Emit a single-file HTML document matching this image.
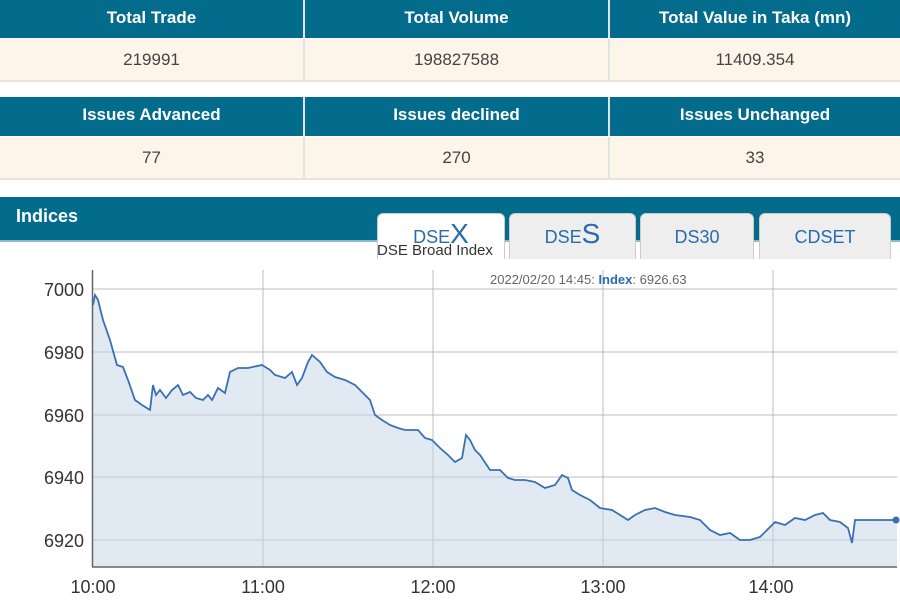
<!DOCTYPE html>
<html><head><meta charset="utf-8"><style>
body{margin:0;width:900px;height:600px;background:#fff;font-family:"Liberation Sans",Arial,sans-serif;overflow:hidden;position:relative}
.row{position:absolute;left:0;width:900px;display:flex}
.row div{box-sizing:border-box;text-align:center;border-right:2px solid #dfe3e3}
.row div:last-child{border-right:none}
.h{background:#036b8c;color:#fff;font-weight:bold;font-size:17px}
.d{background:#fdf4ea;color:#444;font-size:17px}
.c1{width:305px}.c2{width:305px}.c3{width:290px}
.tab{position:absolute;top:213px;height:46px;background:#eeeeee;border:1px solid #ccc;border-bottom:none;border-radius:6px 6px 0 0;box-sizing:border-box;text-align:center;color:#2a6bb0;font-size:18px;padding-top:13px}
</style></head><body>
<div class="row h" style="top:0;height:38px;line-height:36px"><div class="c1">Total Trade</div><div class="c2">Total Volume</div><div class="c3">Total Value in Taka (mn)</div></div>
<div class="row d" style="top:39px;height:41px;line-height:41px;border-bottom:2px solid #e8e4dc"><div class="c1">219991</div><div class="c2">198827588</div><div class="c3">11409.354</div></div>
<div class="row h" style="top:97px;height:39px;line-height:36px"><div class="c1">Issues Advanced</div><div class="c2">Issues declined</div><div class="c3">Issues Unchanged</div></div>
<div class="row d" style="top:137px;height:41px;line-height:41px;border-bottom:2px solid #e8e4dc"><div class="c1">77</div><div class="c2">270</div><div class="c3">33</div></div>
<div style="position:absolute;top:197px;left:0;width:900px;height:43px;background:#036b8c"></div>
<div style="position:absolute;top:240px;left:0;width:900px;height:2px;background:#8fb8c8"></div>
<div style="position:absolute;top:206px;left:16px;color:#fff;font-weight:bold;font-size:18px">Indices</div>
<div class="tab" style="left:377px;width:128px;background:#fff;padding-top:10px">DSE<span style="font-size:28px;line-height:20px">X</span></div>
<div class="tab" style="left:509px;width:127px;padding-top:10px">DSE<span style="font-size:28px;line-height:20px">S</span></div>
<div class="tab" style="left:640px;width:114px">DS30</div>
<div class="tab" style="left:759px;width:132px">CDSET</div>
<div style="position:absolute;top:242px;left:377px;font-size:15px;color:#333">DSE Broad Index</div>
<svg style="position:absolute;left:0;top:0" width="900" height="600">
<g stroke="#b8bcc0" stroke-width="1">
<line x1="93" y1="289" x2="897" y2="289"/><line x1="93" y1="352" x2="897" y2="352"/><line x1="93" y1="415" x2="897" y2="415"/><line x1="93" y1="477" x2="897" y2="477"/><line x1="93" y1="540" x2="897" y2="540"/>
<line x1="263" y1="270" x2="263" y2="567"/><line x1="433" y1="270" x2="433" y2="567"/><line x1="603" y1="270" x2="603" y2="567"/><line x1="773" y1="270" x2="773" y2="567"/>
</g>
<path id="p" d="M93,305 L95,295 98,300 103,320 110,340 117,365 123,367 128,380 135,400 142,405 150,410 153,385 156,395 160,390 166,398 172,390 178,385 183,395 190,392 196,398 203,400 208,395 212,400 218,388 225,393 230,372 238,368 248,368 262,365 270,370 275,375 285,378 292,372 297,385 302,378 308,362 312,355 320,362 327,372 335,377 345,380 355,385 365,395 370,400 375,415 382,420 390,425 398,428 405,430 418,430 425,438 432,440 440,448 448,455 455,462 462,458 466,435 470,440 475,450 480,455 490,470 500,470 508,478 515,480 525,480 535,482 545,488 555,485 562,475 568,478 572,490 580,495 590,500 600,508 612,510 620,515 628,520 635,515 645,510 655,508 665,512 675,515 690,517 700,520 710,530 720,535 730,533 740,540 750,540 760,537 770,527 775,522 785,525 795,518 805,520 815,515 823,513 830,520 840,522 848,528 852,543 855,520 897,520" fill="none"/>
<path d="M93,305 L95,295 98,300 103,320 110,340 117,365 123,367 128,380 135,400 142,405 150,410 153,385 156,395 160,390 166,398 172,390 178,385 183,395 190,392 196,398 203,400 208,395 212,400 218,388 225,393 230,372 238,368 248,368 262,365 270,370 275,375 285,378 292,372 297,385 302,378 308,362 312,355 320,362 327,372 335,377 345,380 355,385 365,395 370,400 375,415 382,420 390,425 398,428 405,430 418,430 425,438 432,440 440,448 448,455 455,462 462,458 466,435 470,440 475,450 480,455 490,470 500,470 508,478 515,480 525,480 535,482 545,488 555,485 562,475 568,478 572,490 580,495 590,500 600,508 612,510 620,515 628,520 635,515 645,510 655,508 665,512 675,515 690,517 700,520 710,530 720,535 730,533 740,540 750,540 760,537 770,527 775,522 785,525 795,518 805,520 815,515 823,513 830,520 840,522 848,528 852,543 855,520 897,520 L897,567 L93,567 Z" fill="#c9d7e8" fill-opacity="0.55"/>
<use href="#p" stroke="#3a70b3" stroke-width="1.8"/>
<circle cx="896" cy="520" r="3.5" fill="#3a70b3"/>
<line x1="92.5" y1="270" x2="92.5" y2="567" stroke="#666" stroke-width="1.5"/>
<line x1="92" y1="567" x2="897" y2="567" stroke="#666" stroke-width="1.5"/>
<g font-size="18" fill="#333" text-anchor="end" font-family="Liberation Sans,Arial,sans-serif">
<text x="84" y="296">7000</text><text x="84" y="359">6980</text><text x="84" y="422">6960</text><text x="84" y="484">6940</text><text x="84" y="547">6920</text>
</g>
<g font-size="18" fill="#333" text-anchor="middle" font-family="Liberation Sans,Arial,sans-serif">
<text x="93" y="593">10:00</text><text x="263" y="593">11:00</text><text x="433" y="593">12:00</text><text x="603" y="593">13:00</text><text x="771" y="593">14:00</text>
</g>
<text x="490" y="284" font-size="13" fill="#666" font-family="Liberation Sans,Arial,sans-serif">2022/02/20 14:45: <tspan fill="#2a6bb0" font-weight="bold">Index</tspan>: 6926.63</text>
</svg>
</body></html>
